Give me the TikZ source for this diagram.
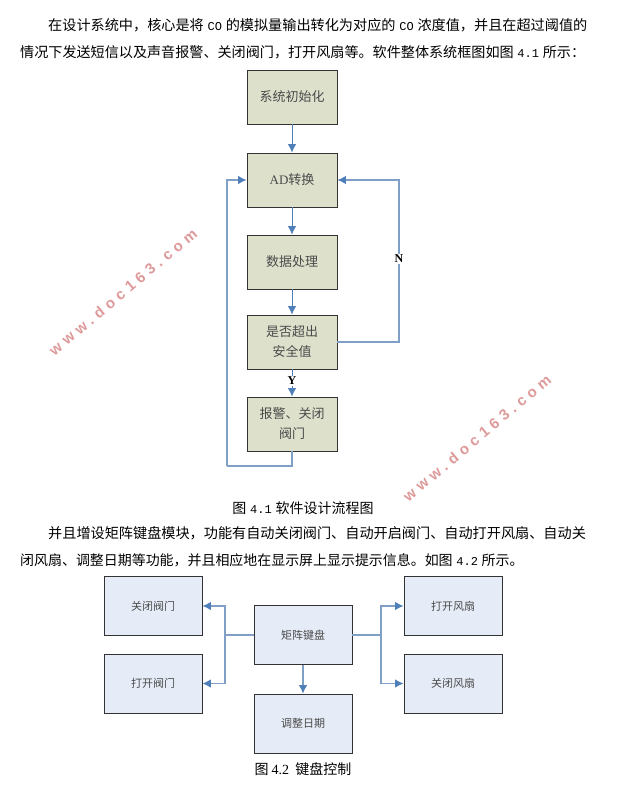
\documentclass[tikz,border=0pt]{standalone}
\usepackage{fontspec}
\setmainfont{Liberation Serif}
\newfontfamily\cn{Noto Sans CJK SC}
\newfontfamily\mk{Liberation Mono}
\newcommand{\mkt}[1]{{\mk\fontsize{12}{16}\selectfont\hspace{.6pt}#1\hspace{.6pt}}}
\newfontfamily\wm[LetterSpace=32]{Liberation Sans}
\usetikzlibrary{arrows.meta,calc}
\definecolor{lineblue}{HTML}{7F9FC6}
\definecolor{tipblue}{HTML}{4F7FB8}
\definecolor{greenbox}{HTML}{DDE1CC}
\definecolor{bluebox}{HTML}{E6ECF7}
\definecolor{boxedge}{HTML}{333333}
\definecolor{boxtext}{HTML}{4A4A4A}
\definecolor{wmark}{HTML}{DE9A9A}
\tikzset{
 x=1pt,y=-1pt,
 flowbox/.style={draw=boxedge,line width=.9pt,fill=greenbox,inner sep=0pt,minimum width=90pt,minimum height=54pt,align=center,text=boxtext,font=\cn\fontsize{13}{20}\selectfont},
 keybox/.style={draw=boxedge,line width=.9pt,fill=bluebox,inner sep=0pt,minimum width=98pt,minimum height=59pt,align=center,text=boxtext,font=\cn\fontsize{11}{14}\selectfont},
 link/.style={draw=tipblue,line width=.8pt,-{Latex[length=8.5pt,width=8.5pt,color=tipblue]}},
 thick link/.style={draw=lineblue,line width=1.1pt,-{Latex[length=8.5pt,width=8.5pt,color=tipblue]}},
 plain link/.style={draw=lineblue,line width=1.1pt},
 body/.style={anchor=west,inner sep=0pt,font=\cn\fontsize{#1}{16}\selectfont,text=black},
 caption/.style={inner sep=0pt,font=\cn\fontsize{14}{16}\selectfont,text=black},
 lab/.style={inner sep=0pt,font=\bfseries\fontsize{12}{14}\selectfont,text=black},
 watermark/.style={rotate=40,inner sep=0pt,text=wmark,font=\wm\bfseries\fontsize{15}{16}\selectfont},
}
\begin{document}
\begin{tikzpicture}
\path[use as bounding box,fill=white] (0,0) rectangle (626,802);
\node[watermark] (w1) at (123,292) {www.doc163.com};
\node[watermark] (w2) at (477,438) {www.doc163.com};
\node[body=14.15] (p1) at (48,25) {在设计系统中，核心是将 \mkt{CO} 的模拟量输出转化为对应的 \mkt{CO} 浓度值，并且在超过阈值的};
\node[body=14.1] (p2) at (20,52) {情况下发送短信以及声音报警、关闭阀门，打开风扇等。软件整体系统框图如图 \mkt{4.1} 所示：};
\node[flowbox] (a) at (292,97) {系统初始化};
\node[flowbox] (b) at (292,180) {{\rmfamily\fontsize{13}{15}\selectfont AD}转换};
\node[flowbox] (c) at (292,262) {数据处理};
\node[flowbox] (d) at (292,342) {是否超出\\安全值};
\node[flowbox] (e) at (292,424) {报警、关闭\\阀门};
\coordinate (fl) at (227,466);
\coordinate (fr) at (399,342);
\draw[link] (a) -- (b);
\draw[link] (b) -- (c);
\draw[link] (c) -- (d);
\draw[link] (d) -- node[lab,fill=white,inner ysep=1pt,pos=.42] (y) {Y} (e);
\draw[plain link] (e.south) |- (fl);
\draw[thick link] (fl) |- (b.west);
\draw[thick link] (d.east) -- (fr) |- (b.east);
\node[lab,fill=white,inner ysep=1pt] (n) at (399,259) {N};
\node[caption] (c1) at (303,508) {图 \mkt{4.1} 软件设计流程图};
\node[body=14.15] (p3) at (48,533) {并且增设矩阵键盘模块，功能有自动关闭阀门、自动开启阀门、自动打开风扇、自动关};
\node[body=13.95] (p4) at (20,560) {闭风扇、调整日期等功能，并且相应地在显示屏上显示提示信息。如图 \mkt{4.2} 所示。};
\node[keybox] (k) at (303,635) {矩阵键盘};
\node[keybox] (tl) at (153,606) {关闭阀门};
\node[keybox] (bl) at (153,683.5) {打开阀门};
\node[keybox] (tr) at (453,606) {打开风扇};
\node[keybox] (br) at (453,683.5) {关闭风扇};
\node[keybox] (dt) at (303,723.5) {调整日期};
\coordinate (jl) at (225,635);
\coordinate (jr) at (381,635);
\draw[plain link] (k.west) -- (jl);
\draw[plain link] (k.east) -- (jr);
\draw[thick link] (jl) |- (tl.east);
\draw[thick link] (jl) |- (bl.east);
\draw[thick link] (jr) |- (tr.west);
\draw[thick link] (jr) |- (br.west);
\draw[thick link] (k) -- (dt);
\node[caption] (c2) at (303,769) {图 {\rmfamily 4.2} \ 键盘控制};
\end{tikzpicture}
\end{document}
